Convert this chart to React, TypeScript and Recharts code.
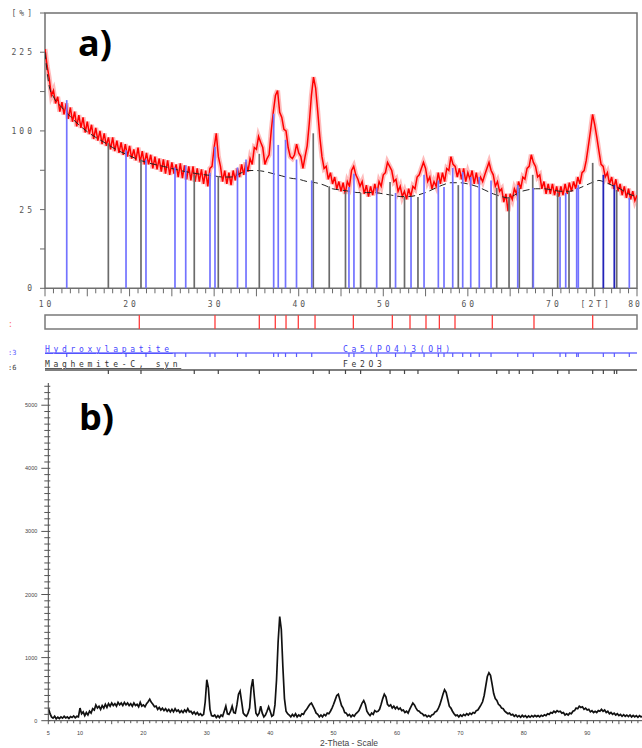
import React from 'react';
import { ComposedChart, Line, XAxis, YAxis, ReferenceLine, ReferenceArea } from 'recharts';

// ---------- panel a) : measured pattern (sqrt intensity, %) ----------
const redStartA = 10;
const redStepA = 0.25;
const redIntensityA = [
  231, 200, 178, 150, 158, 138, 148, 126, 140, 122, 138, 116, 132, 112, 126, 106,
  121, 104, 118, 98, 112, 96, 108, 90, 104, 88, 100, 84, 97, 82, 92, 78,
  92, 76, 88, 74, 86, 72, 84, 70, 82, 68, 78, 66, 80, 64, 76, 62,
  74, 62, 72, 58, 70, 57, 68, 55, 67, 53, 66, 52, 64, 53, 62, 50,
  63, 49, 61, 48, 60, 47, 60, 46, 58, 46, 57, 44, 56, 42, 58, 60,
  80, 97, 70, 60, 46, 56, 44, 54, 43, 56, 47, 58, 50, 62, 52, 64,
  55, 68, 62, 80, 78, 93, 86, 80, 62, 68, 72, 100, 126, 150, 158, 125,
  118, 102, 100, 80, 70, 68, 72, 84, 74, 70, 58, 70, 82, 110, 150, 180,
  162, 126, 92, 70, 58, 60, 48, 54, 44, 50, 40, 46, 38, 45, 36, 46,
  42, 56, 60, 52, 48, 42, 46, 36, 43, 34, 42, 35, 44, 36, 46, 42,
  52, 54, 64, 60, 56, 46, 48, 38, 42, 34, 38, 32, 40, 34, 42, 40,
  50, 52, 58, 64, 58, 46, 50, 40, 46, 42, 54, 44, 54, 46, 58, 56,
  70, 62, 60, 50, 58, 48, 58, 46, 54, 48, 56, 44, 54, 44, 50, 46,
  52, 58, 64, 56, 52, 42, 46, 38, 40, 30, 36, 24, 36, 32, 40, 36,
  46, 40, 50, 48, 58, 60, 72, 64, 60, 50, 52, 40, 46, 36, 44, 36,
  44, 35, 42, 34, 42, 35, 44, 36, 45, 38, 46, 40, 50, 44, 54, 56,
  66, 82, 100, 122, 108, 92, 76, 62, 60, 50, 54, 44, 50, 40, 48, 38,
  44, 35, 42, 33, 40, 32, 38, 31, 35,
];

// dashed background curve
const bgAngleA = [10, 10.5, 11, 12, 13, 14, 15, 16, 17, 18, 19, 20, 21, 22, 24, 26, 28, 30, 31, 32, 33, 34, 35, 36, 37, 38, 39, 40, 41, 42, 43, 44, 45, 46, 47, 48, 49, 50, 51, 52, 53, 54, 55, 56, 57, 58, 59, 60, 61, 62, 63, 64, 64.7, 65.5, 66, 67, 68, 69, 70, 71, 72, 73, 74, 75, 75.5, 76, 77, 78, 79, 80];
const bgIntensityA = [225, 165, 148, 132, 119, 108, 99, 92, 86, 80, 75, 71, 67, 64, 60, 56, 53, 51, 50, 50, 53, 56, 56, 55, 53, 51, 49, 48, 46, 45, 43, 40, 39, 38, 37, 37, 37, 36, 35, 34, 34, 35, 37, 40, 43, 45, 45, 44, 42, 39, 36, 34, 33, 35, 37, 39, 40, 40, 39, 38, 38, 40, 43, 46, 47, 46, 43, 40, 36, 34];

// reference sticks: Hydroxylapatite (blue)
const hapAngle = [12.57, 19.58, 21.94, 25.37, 26.64, 29.51, 30.1, 32.76, 33.77, 37.04, 37.58, 38.44, 39.74, 41.54, 45.94, 46.53, 49.22, 51.45, 53.28, 54.82, 56.51, 57.18, 58.21, 59.39, 60.34, 61.35, 62.74, 65.9, 67.74, 70.9, 71.57, 72.87, 73.06, 79.09];
const hapHeight = [143, 77, 67, 59, 61, 54, 81, 59, 67, 123, 83, 89, 67, 47, 41.5, 53, 40.7, 36.7, 33.7, 52, 47, 41.5, 58.5, 54.7, 50, 50, 47, 43, 40.7, 33.7, 36.7, 40.7, 43, 33];
// reference sticks: Maghemite-C (grey)
const maghAngle = [17.49, 21.35, 27.65, 30.49, 35.34, 41.72, 43.61, 45.53, 47.32, 50.8, 52.51, 54.1, 58.87, 63.41, 64.87, 66.08, 67.67, 70.62, 71.96, 74.76, 77.6];
const maghHeight = [85, 67, 52, 51, 73, 97, 42, 37.5, 36.7, 45.7, 33.7, 33.7, 43, 40.7, 33.7, 40.7, 52, 36.7, 37.5, 63.5, 39];
// overlapping sticks (dark blue)
const dualAngle = [76.02, 77.32];
const dualHeight = [52, 43];

// peak markers in the box
const peakMarks = [21.15, 30.1, 35.34, 37.23, 38.5, 39.95, 41.93, 46.46, 51.07, 53.16, 55.05, 56.63, 58.48, 62.89, 67.82, 74.76];

const xTicksA = Array.from({ length: 71 }, (_, i) => 10 + i);
const xLabelsA: Record<number, string> = { 10: '10', 20: '20', 30: '30', 40: '40', 50: '50', 60: '60', 70: '70', 75: '[2T]', 80: '80' };
const yTicksA = [0, 6.25, 25, 56.25, 100, 156.25, 225, 306];
const yLabelsA: Record<number, string> = { 0: '0', 25: '25', 100: '100', 225: '225', 306: '[%]' };

// ---------- panel b) : second pattern (counts) ----------
const startB = 5;
const stepB = 0.25;
const countsB = [
  200, 120, 60, 40, 70, 30, 55, 35, 60, 40, 70, 45, 60, 35, 65, 50,
  75, 45, 70, 60, 200, 110, 140, 80, 130, 90, 150, 120, 190, 170, 250, 200,
  230, 180, 240, 200, 260, 210, 270, 230, 280, 240, 270, 230, 290, 250, 280, 240,
  290, 250, 280, 240, 270, 230, 280, 240, 260, 220, 290, 230, 250, 220, 270, 300,
  340, 290, 260, 220, 230, 180, 210, 170, 200, 160, 190, 150, 180, 140, 180, 140,
  190, 150, 170, 130, 160, 130, 170, 140, 190, 140, 150, 110, 140, 100, 130, 90,
  110, 80, 100, 300, 650, 520, 180, 80, 70, 90, 50, 80, 50, 90, 70, 150,
  230, 110, 100, 150, 230, 130, 120, 250, 420, 470, 300, 120, 90, 70, 120, 200,
  520, 660, 380, 120, 80, 120, 230, 120, 60, 90, 150, 220, 150, 70, 90, 250,
  650, 1250, 1650, 1450, 850, 350, 150, 110, 90, 60, 100, 70, 110, 60, 90, 70,
  110, 100, 150, 180, 220, 260, 280, 230, 180, 120, 100, 60, 90, 60, 100, 80,
  120, 110, 150, 200, 260, 330, 400, 420, 330, 240, 200, 130, 120, 80, 100, 60,
  90, 70, 110, 130, 160, 220, 280, 320, 260, 150, 110, 80, 120, 100, 160, 140,
  150, 180, 260, 350, 420, 380, 260, 230, 250, 200, 230, 190, 220, 180, 200, 160,
  170, 130, 150, 120, 180, 230, 280, 250, 200, 160, 150, 120, 110, 80, 90, 60,
  80, 60, 90, 100, 140, 150, 190, 250, 330, 420, 490, 450, 340, 230, 200, 150,
  110, 80, 90, 60, 90, 70, 100, 80, 110, 90, 120, 100, 130, 120, 160, 170,
  210, 250, 300, 400, 550, 700, 760, 720, 580, 430, 350, 320, 260, 240, 200, 190,
  150, 130, 110, 120, 90, 100, 70, 90, 60, 80, 55, 85, 60, 80, 50, 75,
  55, 80, 60, 85, 65, 80, 60, 85, 70, 95, 80, 110, 100, 130, 120, 150,
  130, 160, 140, 150, 120, 130, 90, 110, 90, 120, 110, 150, 160, 200, 190, 230,
  210, 220, 180, 200, 170, 180, 140, 160, 130, 150, 130, 160, 150, 180, 150, 170,
  130, 150, 110, 130, 100, 120, 90, 110, 80, 100, 70, 95, 70, 90, 65, 90,
  60, 85, 60, 80, 55, 80, 60, 75, 60, 80, 55,
];
const xTicksB = Array.from({ length: 95 }, (_, i) => 5 + i);
const xLabelsB: Record<number, string> = { 5: '5', 10: '10', 20: '20', 30: '30', 40: '40', 50: '50', 60: '60', 70: '70', 80: '80', 90: '90' };
const yTicksB = Array.from({ length: 54 }, (_, i) => i * 100);

// ---------- derived tables ----------
const redDataA = redIntensityA.map((v, i) => ({ x: redStartA + i * redStepA, v }));
const bgDataA = bgAngleA.map((x, i) => ({ x, v: bgIntensityA[i] }));
const dataB = countsB.map((v, i) => ({ x: startB + i * stepB, v }));

const MONO = '"DejaVu Sans Mono", monospace';
const SANS = '"Liberation Sans", Arial, sans-serif';

const XTickA = (props: any) => {
  const { x, y, payload } = props;
  const v = Math.round(payload.value);
  const major = v % 5 === 0;
  const label = xLabelsA[v];
  const last = v === 80;
  return (
    <g>
      <line x1={x} x2={x} y1={y} y2={y + (major ? 8 : 5)} stroke="#6a6a6a" strokeWidth={1} />
      {label ? (
        <text x={last ? x - 2 : x + 1.5} y={y + 19} textAnchor="middle" fontSize={8} fontFamily={MONO} fill="#555" style={{ letterSpacing: last ? 2 : 3 }}>
          {label}
        </text>
      ) : null}
    </g>
  );
};

const YTickA = (props: any) => {
  const { x, y, payload } = props;
  const label = yLabelsA[payload.value];
  return (
    <g>
      <line x1={x - 5} x2={x} y1={y} y2={y} stroke="#6a6a6a" strokeWidth={1} />
      {label ? (
        <text x={x - 10} y={y + 3} textAnchor="end" fontSize={8} fontFamily={MONO} fill="#555" style={{ letterSpacing: 3 }}>
          {label}
        </text>
      ) : null}
    </g>
  );
};

const XTickB = (props: any) => {
  const { x, y, payload } = props;
  const v = Math.round(payload.value);
  const label = xLabelsB[v];
  return (
    <g>
      <line x1={x} x2={x} y1={y} y2={y + (v % 5 === 0 ? 3.5 : 2.5)} stroke="#555" strokeWidth={1} />
      {label ? (
        <text x={x} y={y + 14} textAnchor="middle" fontSize={5.5} fontFamily={SANS} fill="#444">
          {label}
        </text>
      ) : null}
    </g>
  );
};

const YTickB = (props: any) => {
  const { x, y, payload } = props;
  const v = payload.value;
  const major = v % 1000 === 0;
  return (
    <g>
      <line x1={x - (major ? 7 : 4)} x2={x + 2} y1={y} y2={y} stroke="#555" strokeWidth={1} />
      {major ? (
        <text x={x - 11} y={y + 2} textAnchor="end" fontSize={5.5} fontFamily={SANS} fill="#444">
          {String(v)}
        </text>
      ) : null}
    </g>
  );
};

const STRIP_BOX_TOP = 5;
const STRIP_BOX_BOTTOM = 19;
const STRIP_HAP = 43;
const STRIP_MAGH = 60;
const STRIP_TICK = 4;

export default function App() {
  return (
    <div style={{ position: 'absolute', left: 0, top: 0, width: 642, height: 748, overflow: 'hidden', background: '#fff' }}>
      {/* panel a */}
      <div style={{ position: 'absolute', left: 0, top: 0 }}>
        <ComposedChart width={642} height={315} data={redDataA} margin={{ top: 13, right: 5, left: 0, bottom: 0 }}>
          <XAxis
            dataKey="x"
            type="number"
            domain={[10, 80]}
            allowDataOverflow
            ticks={xTicksA}
            interval={0}
            tick={<XTickA />}
            tickSize={0}
            tickMargin={0}
            tickLine={false}
            axisLine={false}
            height={26.7}
          />
          <YAxis
            type="number"
            scale="sqrt"
            domain={[0, 306]}
            allowDataOverflow
            ticks={yTicksA}
            interval={0}
            tick={<YTickA />}
            tickSize={0}
            tickMargin={0}
            tickLine={false}
            axisLine={false}
            width={45}
          />
          <Line dataKey="v" type="linear" stroke="#ff6b6b" strokeOpacity={0.45} strokeWidth={5} dot={false} isAnimationActive={false} />
          <Line dataKey="v" type="linear" stroke="#ff0000" strokeWidth={1.5} dot={false} isAnimationActive={false} />
          <Line data={bgDataA} dataKey="v" type="monotone" stroke="#222" strokeWidth={1} strokeDasharray="7 4" dot={false} isAnimationActive={false} />
          {maghAngle.map((a, i) => (
            <ReferenceLine key={'m' + i} segment={[{ x: a, y: 0 }, { x: a, y: maghHeight[i] }]} stroke="#6b6b6b" strokeWidth={1.7} />
          ))}
          {hapAngle.map((a, i) => (
            <ReferenceLine key={'h' + i} segment={[{ x: a, y: 0 }, { x: a, y: hapHeight[i] }]} stroke="#7373ff" strokeWidth={1.7} />
          ))}
          {dualAngle.map((a, i) => (
            <ReferenceLine key={'d' + i} segment={[{ x: a, y: 0 }, { x: a, y: dualHeight[i] }]} stroke="#2323b8" strokeWidth={1.8} />
          ))}
          <ReferenceArea x1={10} x2={80} y1={0} y2={306} fill="none" fillOpacity={0} stroke="#707070" strokeWidth={1.5} />
        </ComposedChart>
      </div>

      {/* pattern strips */}
      <div style={{ position: 'absolute', left: 0, top: 310 }}>
        <ComposedChart width={642} height={65} data={[{ x: 10 }, { x: 80 }]} margin={{ top: 0, right: 5, left: 45, bottom: 0 }}>
          <XAxis dataKey="x" type="number" domain={[10, 80]} hide allowDataOverflow />
          <YAxis type="number" domain={[0, 65]} reversed hide allowDataOverflow />
          <ReferenceArea x1={10} x2={80} y1={STRIP_BOX_TOP} y2={STRIP_BOX_BOTTOM} fill="#fff" fillOpacity={1} stroke="#7a7a7a" strokeWidth={1.5} />
          {peakMarks.map((a, i) => (
            <ReferenceLine key={'p' + i} segment={[{ x: a, y: STRIP_BOX_TOP }, { x: a, y: STRIP_BOX_BOTTOM }]} stroke="#ff3b3b" strokeWidth={1.3} />
          ))}
          <ReferenceLine segment={[{ x: 10, y: STRIP_HAP }, { x: 80, y: STRIP_HAP }]} stroke="#6f6fff" strokeWidth={1.5} />
          {[...hapAngle, ...dualAngle].map((a, i) => (
            <ReferenceLine key={'ht' + i} segment={[{ x: a, y: STRIP_HAP }, { x: a, y: STRIP_HAP + STRIP_TICK }]} stroke="#5a5aff" strokeWidth={1.2} />
          ))}
          <ReferenceLine segment={[{ x: 10, y: STRIP_MAGH }, { x: 80, y: STRIP_MAGH }]} stroke="#555" strokeWidth={1.5} />
          {[...maghAngle, ...dualAngle].map((a, i) => (
            <ReferenceLine key={'mt' + i} segment={[{ x: a, y: STRIP_MAGH }, { x: a, y: STRIP_MAGH + STRIP_TICK }]} stroke="#444" strokeWidth={1.2} />
          ))}
        </ComposedChart>
      </div>

      {/* panel b */}
      <div style={{ position: 'absolute', left: 0, top: 370 }}>
        <ComposedChart width={700} height={378} data={dataB} margin={{ top: 13, right: 49.4, left: 0, bottom: 0 }}>
          <XAxis
            dataKey="x"
            type="number"
            domain={[5, 100]}
            allowDataOverflow
            ticks={xTicksB}
            interval={0}
            tick={<XTickB />}
            tickSize={0}
            tickMargin={0}
            tickLine={false}
            axisLine={{ stroke: '#444', strokeWidth: 1 }}
            height={27.3}
          />
          <YAxis
            type="number"
            domain={[0, 5352]}
            allowDataOverflow
            ticks={yTicksB}
            interval={0}
            tick={<YTickB />}
            tickSize={0}
            tickMargin={0}
            tickLine={false}
            axisLine={{ stroke: '#444', strokeWidth: 1 }}
            width={48.3}
          />
          <Line dataKey="v" type="linear" stroke="#111" strokeWidth={1.7} dot={false} isAnimationActive={false} />
        </ComposedChart>
      </div>

      {/* text annotations */}
      <svg width={642} height={748} style={{ position: 'absolute', left: 0, top: 0, pointerEvents: 'none' }}>
        <text x={78} y={56} fontFamily='"Open Sans", sans-serif' fontWeight={700} fontSize={36} fill="#000">a)</text>
        <text x={79} y={430} fontFamily='"Open Sans", sans-serif' fontWeight={700} fontSize={36} fill="#000">b)</text>
        <text x={8} y={327} fontFamily={MONO} fontSize={8} fill="#ff6a6a">:</text>
        <text x={8} y={355} fontFamily={MONO} fontSize={7} fill="#5a5aff">:3</text>
        <text x={8} y={370} fontFamily={MONO} fontSize={7} fill="#444">:6</text>
        <text x={45} y={352} fontFamily={MONO} fontSize={8} fill="#4545ff" textDecoration="underline" style={{ letterSpacing: 3.7 }}>Hydroxylapatite</text>
        <text x={343} y={352} fontFamily={MONO} fontSize={8} fill="#4545ff" style={{ letterSpacing: 3.7 }}>Ca5(PO4)3(OH)</text>
        <text x={45} y={367} fontFamily={MONO} fontSize={8} fill="#333" textDecoration="underline" style={{ letterSpacing: 3.7 }}>Maghemite-C, syn</text>
        <text x={343} y={367} fontFamily={MONO} fontSize={8} fill="#333" style={{ letterSpacing: 3.7 }}>Fe2O3</text>
        <text x={349} y={746} textAnchor="middle" fontFamily={SANS} fontSize={8.5} fill="#444">2-Theta - Scale</text>
      </svg>
    </div>
  );
}
